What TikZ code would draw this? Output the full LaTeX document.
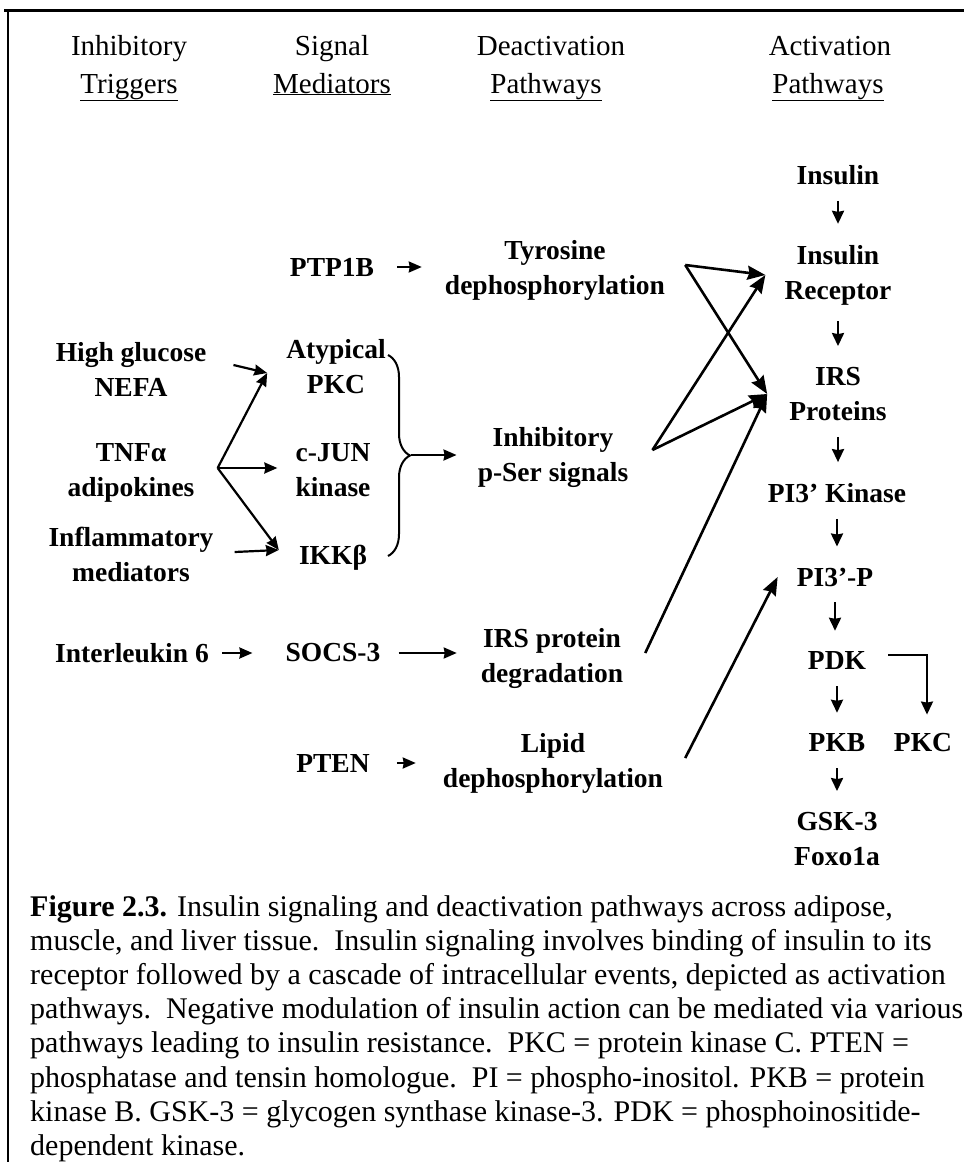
\documentclass[tikz,border=0pt]{standalone}
\usepackage{fontspec}
\setmainfont{Liberation Serif}
\usetikzlibrary{arrows.meta,decorations.pathreplacing,calc}
\begin{document}
\begin{tikzpicture}[x=1pt,y=-1pt,
  lbl/.style={font=\fontsize{27.5}{35}\selectfont\bfseries, align=center, inner sep=0pt},
  hdr/.style={font=\fontsize{29}{35}\selectfont, anchor=base, inner sep=0pt},
  captxt/.style={font=\fontsize{30}{34}\selectfont, anchor=base west, inner sep=0pt},
  dn/.style={line width=2.4pt, -{Stealth[length=13pt,width=12pt,inset=1pt]}, shorten <=16pt, shorten >=21pt},
  sa/.style={line width=2.2pt, -{Stealth[length=13pt,width=11pt,inset=1pt]}},
  la/.style={line width=2.6pt, -{Stealth[length=18pt,width=14pt,inset=2pt]}},
]
\useasboundingbox (0,0) rectangle (964,1162);
% frame
\draw[line width=3pt] (4,10) -- (964,10);
\draw[line width=2pt] (8,9) -- (8,1162);

% headers
\node[hdr] (h1a) at (129,55) {Inhibitory};
\node[hdr] (h1b) at (129,93) {\underline{Triggers}};
\node[hdr] (h2a) at (332,55) {Signal};
\node[hdr] (h2b) at (332,93) {\underline{Mediators}};
\node[hdr] (h3a) at (551,55) {Deactivation};
\node[hdr] (h3b) at (546,93) {\underline{Pathways}};
\node[hdr] (h4a) at (830,55) {Activation};
\node[hdr] (h4b) at (828,93) {\underline{Pathways}};

% activation column
\node[lbl] (ins) at (838,175) {Insulin};
\node[lbl] (ir) at (838,275) {Insulin\\Receptor};
\node[lbl] (irs) at (838,394) {IRS\\Proteins};
\node[lbl] (pi3k) at (837,493) {PI3’ Kinase};
\node[lbl] (pi3p) at (835,577) {PI3’-P};
\node[lbl] (pdk) at (837,661) {PDK};
\node[lbl] (pkb) at (837,743) {PKB};
\node[lbl] (pkc) at (923,743) {PKC};
\node[lbl] (gsk) at (837,839) {GSK-3\\Foxo1a};

% deactivation column
\node[lbl] (tyr) at (555,270) {Tyrosine\\dephosphorylation};
\node[lbl] (inh) at (553,457) {Inhibitory\\p-Ser signals};
\node[lbl] (deg) at (552,658) {IRS protein\\degradation};
\node[lbl] (lip) at (553,763) {Lipid\\dephosphorylation};

% mediators
\node[lbl] (ptp) at (332,267) {PTP1B};
\node[lbl] (atyp) at (336,367) {Atypical\\PKC};
\node[lbl] (cjun) at (333,470) {c-JUN\\kinase};
\node[lbl] (ikk) at (333,558) {IKKβ};
\node[lbl] (socs) at (333,653) {SOCS-3};
\node[lbl] (pten) at (333,763) {PTEN};

% triggers
\node[lbl] (hg) at (131,369) {High glucose\\NEFA};
\node[lbl] (tnf) at (131,473) {TNFα\\adipokines};
\node[lbl] (infl) at (131,554) {Inflammatory\\mediators};
\node[lbl] (il6) at (132,653) {Interleukin 6};

% helper coordinates
\coordinate (atypin) at ([xshift=-19pt,yshift=-6pt]atyp.west);
\coordinate (fan) at ([xshift=23pt,yshift=5pt]tnf.east);
\coordinate (ikkin) at ([xshift=-20pt,yshift=8pt]ikk.west);
\coordinate (btop) at (388,355);
\coordinate (bbot) at (388,556);
\coordinate (btip) at (411,455);
\coordinate (tyo) at ([xshift=20pt,yshift=5pt]tyr.east);
\coordinate (inho) at ([xshift=24pt,yshift=7pt]inh.east);
\coordinate (irin) at ([xshift=-19pt]ir.west);
\coordinate (irsin) at ([xshift=-22pt]irs.west);
\coordinate (dego) at ([xshift=22pt,yshift=5pt]deg.east);
\coordinate (lipo) at ([xshift=22pt,yshift=5pt]lip.east);
\coordinate (pi3pin) at ([xshift=-19pt]pi3p.west);

% activation arrows
\draw[dn] (ins.south) -- (ins.south |- ir.north);
\draw[dn] (ir.south) -- (ir.south |- irs.north);
\draw[dn] (irs.south) -- (irs.south |- pi3k.north);
\draw[dn] (pi3k.south) -- (pi3k.south |- pi3p.north);
\draw[dn] (pi3p.south) -- (pi3p.south |- pdk.north);
\draw[dn] (pdk.south) -- (pdk.south |- pkb.north);
\draw[dn] (pkb.south) -- (pkb.south |- gsk.north);
\draw[line width=2pt, -{Stealth[length=13pt,width=12pt,inset=1pt]}, shorten <=22pt, shorten >=19pt]
  ([yshift=6pt]pdk.east) -| ([xshift=4pt]pkc.north);

% short horizontal arrows
\draw[sa, shorten <=23pt, shorten >=23pt] (ptp.east) -- (ptp.east -| tyr.west);
\draw[sa, shorten <=13.5pt, shorten >=33pt] (il6.east) -- (socs.west);
\draw[sa, shorten <=18pt, shorten >=24pt] (socs.east) -- (socs.east -| deg.west);
\draw[sa, shorten <=27pt, shorten >=27pt] (pten.east) -- (pten.east -| lip.west);

% triggers to mediators
\draw[sa] ([xshift=27pt,yshift=4pt]hg.east) -- (atypin);
\draw[sa] (fan) -- (atypin);
\draw[sa, shorten >=18pt] (fan) -- (fan -| cjun.west);
\draw[sa] (fan) -- (ikkin);
\draw[sa] ([xshift=21pt,yshift=2pt]infl.east) -- (ikkin);

% brace
\draw[line width=2pt, decorate, decoration={brace, amplitude=22pt}] (btop) -- (bbot);
\draw[sa, shorten >=21pt] (btip) -- (btip -| inh.west);

% long arrows
\draw[la] (tyo) -- (irin);
\draw[la] (tyo) -- (irsin);
\draw[la] (inho) -- (irin);
\draw[la] (inho) -- (irsin);
\draw[la] (dego) -- (irsin);
\draw[la] (lipo) -- (pi3pin);

% caption
\node[captxt] (c1) at (30,916) {\textbf{Figure 2.3.} Insulin signaling and deactivation pathways across adipose,};
\node[captxt] (c2) at (30,950.2) {muscle, and liver tissue.\ \ Insulin signaling involves binding of insulin to its};
\node[captxt] (c3) at (30,984.4) {receptor followed by a cascade of intracellular events, depicted as activation};
\node[captxt] (c4) at (30,1018.6) {pathways.\ \ Negative modulation of insulin action can be mediated via various};
\node[captxt] (c5) at (30,1052.8) {pathways leading to insulin resistance.\ \ PKC = protein kinase C. PTEN =};
\node[captxt] (c6) at (30,1087) {phosphatase and tensin homologue.\ \ PI = phospho-inositol. PKB = protein};
\node[captxt] (c7) at (30,1121.2) {kinase B. GSK-3 = glycogen synthase kinase-3. PDK = phosphoinositide-};
\node[captxt] (c8) at (30,1155.4) {dependent kinase.};
\end{tikzpicture}
\end{document}
